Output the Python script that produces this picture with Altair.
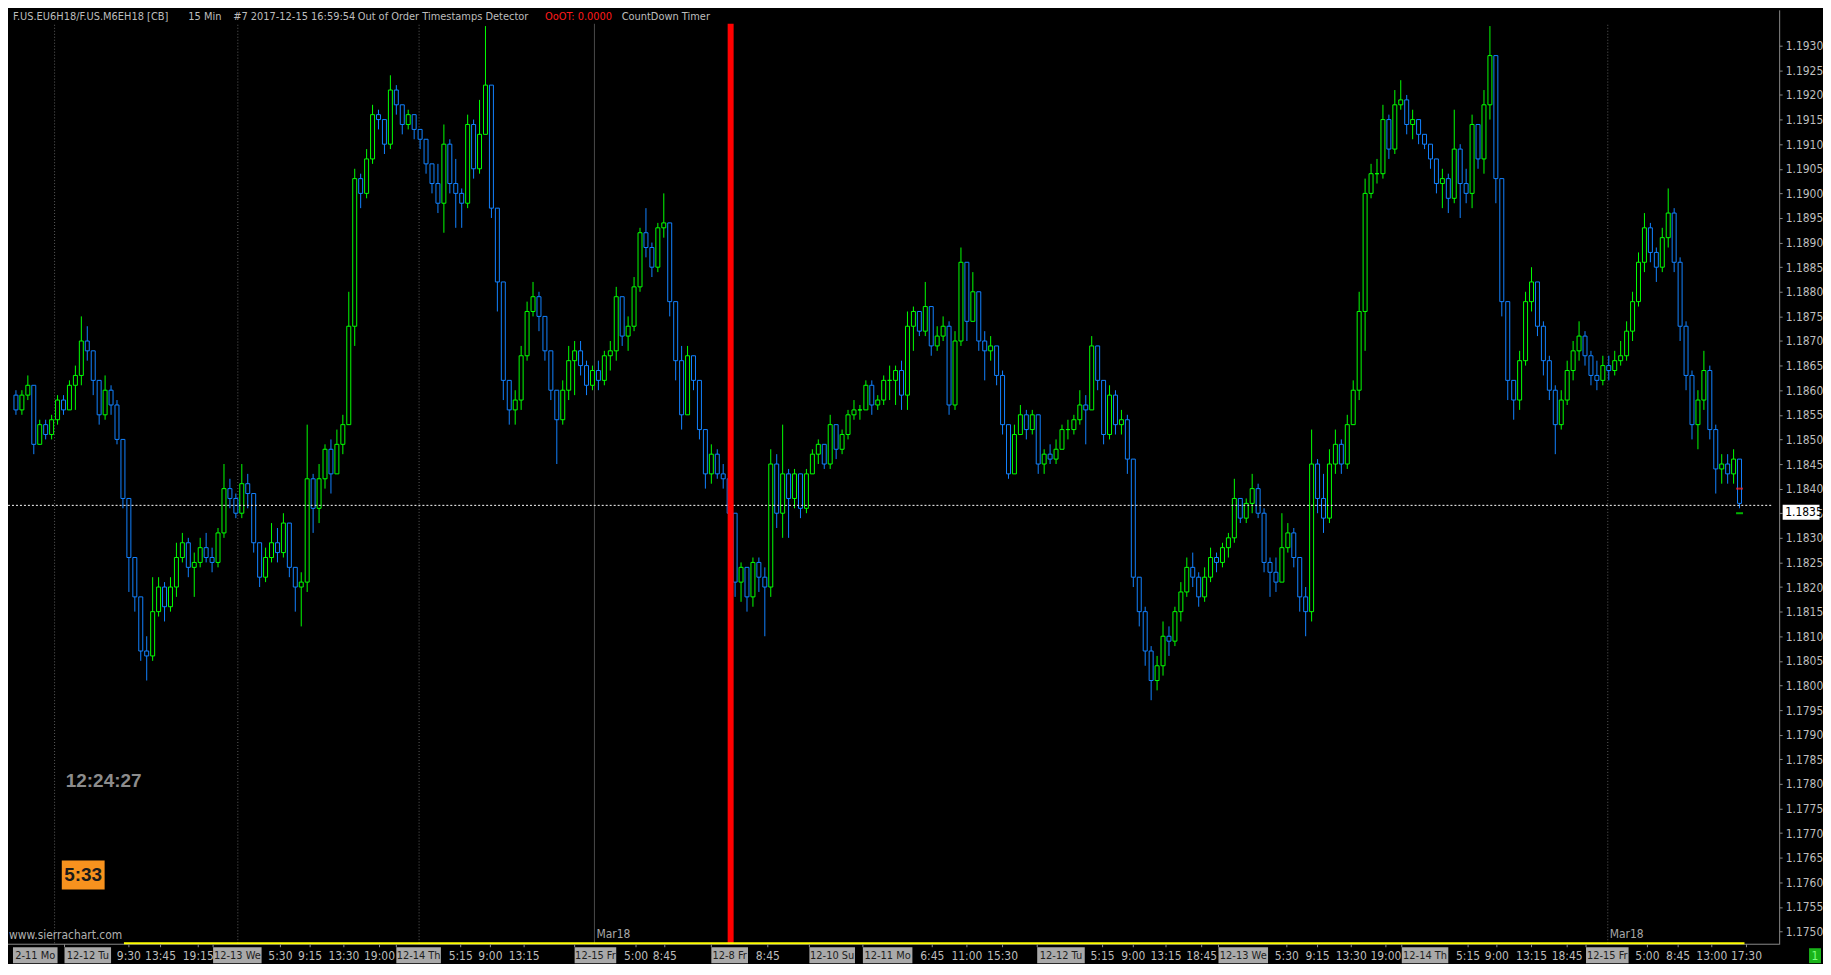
import altair as alt
import pandas as pd
import numpy as np

# ---------------- data ----------------
FIRST_OPEN = 1.1859
CLOSE = [
    1.1856, 1.1859, 1.1861, 1.1849, 1.1853, 1.1851, 1.1854, 1.1858, 1.1856, 1.1861,
    1.1863, 1.1870, 1.1868, 1.1862, 1.1855, 1.1860, 1.1857, 1.1850, 1.1838, 1.1826,
    1.1818, 1.1807, 1.1806, 1.1815, 1.1820, 1.1816, 1.1820, 1.1826, 1.1829, 1.1824,
    1.1825, 1.1828, 1.1826, 1.1825, 1.1831, 1.1840, 1.1838, 1.1835, 1.1841, 1.1839,
    1.1829, 1.1822, 1.1826, 1.1829, 1.1827, 1.1833, 1.1824, 1.1820, 1.1821, 1.1842,
    1.1836, 1.1842, 1.1848, 1.1843, 1.1849, 1.1853, 1.1873, 1.1903, 1.1900, 1.1907,
    1.1916, 1.1915, 1.1910, 1.1921, 1.1918, 1.1914, 1.1916, 1.1913, 1.1911, 1.1906,
    1.1902, 1.1898, 1.1910, 1.1902, 1.1900, 1.1898, 1.1914, 1.1905, 1.1912, 1.1922,
    1.1897, 1.1882, 1.1862, 1.1856, 1.1858, 1.1867, 1.1876, 1.1879, 1.1875, 1.1868,
    1.1860, 1.1854, 1.1860, 1.1866, 1.1868, 1.1865, 1.1861, 1.1864, 1.1862, 1.1867,
    1.1868, 1.1879, 1.1871, 1.1873, 1.1881, 1.1892, 1.1889, 1.1885, 1.1893, 1.1894,
    1.1878, 1.1866, 1.1855, 1.1867, 1.1862, 1.1852, 1.1843, 1.1847, 1.1843, 1.1842,
    1.1835, 1.1821, 1.1824, 1.1818, 1.1825, 1.1822, 1.1820, 1.1845, 1.1835, 1.1843,
    1.1838, 1.1843, 1.1836, 1.1843, 1.1847, 1.1849, 1.1845, 1.1853, 1.1848, 1.1851,
    1.1855, 1.1856, 1.1856, 1.1861, 1.1857, 1.1858, 1.1862, 1.1862, 1.1864, 1.1859,
    1.1873, 1.1876, 1.1872, 1.1877, 1.1869, 1.1871, 1.1873, 1.1857, 1.1870, 1.1886,
    1.1874, 1.1880, 1.1870, 1.1868, 1.1869, 1.1863, 1.1853, 1.1843, 1.1851, 1.1855,
    1.1852, 1.1855, 1.1845, 1.1847, 1.1846, 1.1848, 1.1852, 1.1852, 1.1854, 1.1857,
    1.1856, 1.1869, 1.1862, 1.1851, 1.1859, 1.1853, 1.1854, 1.1846, 1.1822, 1.1815,
    1.1807, 1.1801, 1.1804, 1.1810, 1.1809, 1.1815, 1.1819, 1.1824, 1.1822, 1.1818,
    1.1822, 1.1826, 1.1825, 1.1828, 1.1830, 1.1838, 1.1834, 1.1837, 1.1840, 1.1835,
    1.1825, 1.1823, 1.1821, 1.1828, 1.1831, 1.1826, 1.1818, 1.1815, 1.1845, 1.1838,
    1.1834, 1.1845, 1.1849, 1.1845, 1.1853, 1.1860, 1.1876, 1.1900, 1.1904, 1.1904,
    1.1915, 1.1909, 1.1918, 1.1919, 1.1914, 1.1915, 1.1912, 1.1910, 1.1907, 1.1902,
    1.1903, 1.1899, 1.1909, 1.1902, 1.1900, 1.1914, 1.1907, 1.1918, 1.1928, 1.1903,
    1.1878, 1.1862, 1.1858, 1.1866, 1.1878, 1.1882, 1.1873, 1.1866, 1.1860, 1.1853,
    1.1858, 1.1864, 1.1868, 1.1871, 1.1867, 1.1863, 1.1862, 1.1865, 1.1864, 1.1866,
    1.1867, 1.1872, 1.1878, 1.1886, 1.1893, 1.1888, 1.1885, 1.1891, 1.1896, 1.1886,
    1.1873, 1.1863, 1.1853, 1.1858, 1.1864, 1.1852, 1.1844, 1.1845, 1.1843, 1.1846,
    1.1837,
]
HIGH = [
    1.1860, 1.1860, 1.1863, 1.1857, 1.1854, 1.1854, 1.1855, 1.1859, 1.1859, 1.1862,
    1.1865, 1.1875, 1.1873, 1.1868, 1.1860, 1.1863, 1.1861, 1.1858, 1.1850, 1.1838,
    1.1826, 1.1818, 1.1810, 1.1822, 1.1822, 1.1821, 1.1822, 1.1829, 1.1831, 1.1830,
    1.1827, 1.1830, 1.1831, 1.1828, 1.1832, 1.1845, 1.1842, 1.1839, 1.1845, 1.1843,
    1.1839, 1.1829, 1.1828, 1.1833, 1.1832, 1.1835, 1.1832, 1.1824, 1.1823, 1.1853,
    1.1843, 1.1845, 1.1849, 1.1850, 1.1852, 1.1855, 1.1880, 1.1905, 1.1904, 1.1909,
    1.1918, 1.1917, 1.1914, 1.1924, 1.1922, 1.1918, 1.1917, 1.1916, 1.1913, 1.1911,
    1.1905, 1.1906, 1.1914, 1.1911, 1.1907, 1.1901, 1.1916, 1.1915, 1.1919, 1.1934,
    1.1922, 1.1897, 1.1882, 1.1862, 1.1860, 1.1869, 1.1878, 1.1882, 1.1880, 1.1874,
    1.1866, 1.1860, 1.1862, 1.1869, 1.1870, 1.1870, 1.1866, 1.1865, 1.1866, 1.1868,
    1.1870, 1.1881, 1.1879, 1.1875, 1.1883, 1.1893, 1.1897, 1.1890, 1.1894, 1.1900,
    1.1894, 1.1872, 1.1869, 1.1869, 1.1867, 1.1862, 1.1852, 1.1849, 1.1848, 1.1845,
    1.1843, 1.1830, 1.1825, 1.1824, 1.1826, 1.1826, 1.1824, 1.1848, 1.1847, 1.1853,
    1.1844, 1.1844, 1.1843, 1.1844, 1.1848, 1.1850, 1.1849, 1.1855, 1.1853, 1.1852,
    1.1856, 1.1858, 1.1857, 1.1862, 1.1862, 1.1859, 1.1863, 1.1865, 1.1865, 1.1866,
    1.1876, 1.1877, 1.1876, 1.1882, 1.1876, 1.1873, 1.1875, 1.1874, 1.1872, 1.1889,
    1.1886, 1.1884, 1.1877, 1.1872, 1.1871, 1.1868, 1.1864, 1.1852, 1.1853, 1.1857,
    1.1856, 1.1856, 1.1855, 1.1848, 1.1849, 1.1850, 1.1853, 1.1854, 1.1855, 1.1860,
    1.1859, 1.1871, 1.1869, 1.1862, 1.1861, 1.1860, 1.1856, 1.1855, 1.1846, 1.1822,
    1.1816, 1.1808, 1.1806, 1.1813, 1.1812, 1.1816, 1.1821, 1.1826, 1.1827, 1.1823,
    1.1824, 1.1828, 1.1827, 1.1829, 1.1831, 1.1842, 1.1838, 1.1838, 1.1843, 1.1841,
    1.1836, 1.1826, 1.1826, 1.1835, 1.1833, 1.1832, 1.1826, 1.1820, 1.1852, 1.1846,
    1.1843, 1.1848, 1.1852, 1.1850, 1.1855, 1.1862, 1.1880, 1.1903, 1.1906, 1.1907,
    1.1918, 1.1916, 1.1921, 1.1923, 1.1920, 1.1917, 1.1915, 1.1912, 1.1910, 1.1907,
    1.1905, 1.1904, 1.1917, 1.1910, 1.1905, 1.1916, 1.1914, 1.1921, 1.1934, 1.1928,
    1.1900, 1.1878, 1.1862, 1.1868, 1.1880, 1.1885, 1.1882, 1.1874, 1.1867, 1.1861,
    1.1860, 1.1866, 1.1870, 1.1874, 1.1872, 1.1868, 1.1866, 1.1867, 1.1867, 1.1868,
    1.1870, 1.1874, 1.1880, 1.1888, 1.1896, 1.1894, 1.1889, 1.1893, 1.1901, 1.1897,
    1.1887, 1.1874, 1.1864, 1.1860, 1.1868, 1.1865, 1.1853, 1.1847, 1.1847, 1.1848,
    1.1845,
]
LOW = [
    1.1855, 1.1855, 1.1858, 1.1847, 1.1849, 1.1850, 1.1850, 1.1853, 1.1855, 1.1856,
    1.1856, 1.1861, 1.1866, 1.1859, 1.1853, 1.1854, 1.1855, 1.1849, 1.1836, 1.1819,
    1.1815, 1.1805, 1.1801, 1.1805, 1.1814, 1.1813, 1.1815, 1.1818, 1.1825, 1.1822,
    1.1818, 1.1824, 1.1825, 1.1823, 1.1824, 1.1830, 1.1836, 1.1834, 1.1834, 1.1836,
    1.1827, 1.1820, 1.1821, 1.1825, 1.1825, 1.1826, 1.1822, 1.1815, 1.1812, 1.1819,
    1.1831, 1.1833, 1.1840, 1.1839, 1.1843, 1.1847, 1.1855, 1.1869, 1.1897, 1.1899,
    1.1906, 1.1913, 1.1908, 1.1909, 1.1916, 1.1912, 1.1913, 1.1911, 1.1909, 1.1904,
    1.1900, 1.1896, 1.1892, 1.1900, 1.1893, 1.1893, 1.1897, 1.1903, 1.1904, 1.1915,
    1.1895, 1.1876, 1.1858, 1.1853, 1.1853, 1.1856, 1.1866, 1.1875, 1.1872, 1.1866,
    1.1858, 1.1845, 1.1853, 1.1858, 1.1859, 1.1863, 1.1859, 1.1860, 1.1860, 1.1861,
    1.1864, 1.1866, 1.1869, 1.1868, 1.1872, 1.1880, 1.1887, 1.1883, 1.1884, 1.1891,
    1.1875, 1.1862, 1.1852, 1.1855, 1.1860, 1.1850, 1.1840, 1.1841, 1.1842, 1.1840,
    1.1834, 1.1818, 1.1817, 1.1815, 1.1816, 1.1819, 1.1810, 1.1818, 1.1832, 1.1830,
    1.1830, 1.1836, 1.1834, 1.1835, 1.1843, 1.1845, 1.1844, 1.1844, 1.1846, 1.1847,
    1.1850, 1.1854, 1.1854, 1.1856, 1.1855, 1.1856, 1.1857, 1.1858, 1.1857, 1.1856,
    1.1856, 1.1868, 1.1871, 1.1871, 1.1867, 1.1868, 1.1870, 1.1855, 1.1856, 1.1869,
    1.1870, 1.1875, 1.1868, 1.1862, 1.1866, 1.1861, 1.1851, 1.1842, 1.1843, 1.1851,
    1.1850, 1.1851, 1.1843, 1.1843, 1.1845, 1.1845, 1.1848, 1.1850, 1.1851, 1.1853,
    1.1849, 1.1856, 1.1860, 1.1849, 1.1850, 1.1851, 1.1851, 1.1843, 1.1820, 1.1812,
    1.1804, 1.1797, 1.1799, 1.1802, 1.1806, 1.1808, 1.1813, 1.1818, 1.1820, 1.1816,
    1.1817, 1.1821, 1.1823, 1.1824, 1.1826, 1.1829, 1.1833, 1.1833, 1.1835, 1.1834,
    1.1823, 1.1818, 1.1819, 1.1821, 1.1827, 1.1824, 1.1815, 1.1810, 1.1813, 1.1835,
    1.1831, 1.1833, 1.1843, 1.1843, 1.1844, 1.1853, 1.1858, 1.1868, 1.1899, 1.1902,
    1.1903, 1.1907, 1.1908, 1.1917, 1.1912, 1.1911, 1.1910, 1.1909, 1.1905, 1.1900,
    1.1897, 1.1896, 1.1898, 1.1895, 1.1898, 1.1897, 1.1905, 1.1904, 1.1915, 1.1898,
    1.1875, 1.1858, 1.1854, 1.1856, 1.1865, 1.1876, 1.1871, 1.1863, 1.1858, 1.1847,
    1.1852, 1.1857, 1.1862, 1.1866, 1.1865, 1.1861, 1.1860, 1.1861, 1.1862, 1.1863,
    1.1865, 1.1866, 1.1870, 1.1877, 1.1884, 1.1886, 1.1882, 1.1884, 1.1889, 1.1884,
    1.1870, 1.1860, 1.1850, 1.1848, 1.1856, 1.1850, 1.1839, 1.1841, 1.1841, 1.1841,
    1.1836,
]

PRICE_TICKS = [
    1.1750, 1.1755, 1.1760, 1.1765, 1.1770, 1.1775, 1.1780, 1.1785, 1.1790,
    1.1795, 1.1800, 1.1805, 1.1810, 1.1815, 1.1820, 1.1825, 1.1830, 1.1835,
    1.1840, 1.1845, 1.1850, 1.1855, 1.1860, 1.1865, 1.1870, 1.1875, 1.1880,
    1.1885, 1.1890, 1.1895, 1.1900, 1.1905, 1.1910, 1.1915, 1.1920, 1.1925,
    1.1930,
]
LAST_LINE_PRICE = 1.18366
LAST_LABEL = "1.1835"
LAST_LABEL_PRICE = 1.18352
LAST_BAR_MARKS = [1.1840, 1.1835]
LAST_BAR_MARK_KIND = ["ask", "bid"]

RED_SLOT = 120.25
DOTTED_GRID_SLOTS = [6.5, 37.33, 67.83, 267.83]
SOLID_GRID_SLOTS = [97.33]
MAR18_SLOTS = [97.33, 267.83]
YELLOW_SPAN = [18.17, 290.83]

DATE_LABELS = ["2-11 Mo", "12-12 Tu", "12-13 We", "12-14 Th", "12-15 Fr", "12-8 Fr",
               "12-10 Su", "12-11 Mo", "12-12 Tu", "12-13 We", "12-14 Th", "12-15 Fr"]
DATE_START = [-0.5, 8.17, 33.17, 64.0, 94.0, 117.0, 133.5, 142.5, 171.83, 202.33, 233.17, 264.17]
DATE_END = [7.0, 16.0, 41.33, 71.5, 101.0, 123.17, 141.17, 150.83, 179.83, 210.67, 241.0, 271.33]

TIME_LABELS = ["9:30", "13:45", "19:15", "5:30", "9:15", "13:30", "19:00", "5:15", "9:00",
               "13:15", "5:00", "8:45", "8:45", "6:45", "11:00", "15:30", "5:15", "9:00",
               "13:15", "18:45", "5:30", "9:15", "13:30", "19:00", "5:15", "9:00", "13:15",
               "18:45", "5:00", "8:45", "13:00", "17:30"]
TIME_POS = [19.0, 24.33, 30.67, 44.5, 49.5, 55.17, 61.17, 74.83, 79.83, 85.5, 104.33, 109.17,
            126.5, 154.17, 160.0, 166.0, 182.83, 188.0, 193.5, 199.5, 213.83, 219.0, 224.67,
            230.5, 244.33, 249.17, 255.0, 261.0, 274.5, 279.67, 285.33, 291.17]

HEADER_TEXTS = ["F.US.EU6H18/F.US.M6EH18 [CB]", "15 Min", "#7 2017-12-15 16:59:54",
                "Out of Order Timestamps Detector", "OoOT: 0.0000", "CountDown Timer"]
HEADER_KIND = ["info", "info", "info", "info", "alert", "info"]
CLOCK_TEXT = "12:24:27"
COUNTDOWN_TEXT = "5:33"
WATERMARK = "www.sierrachart.com"
CONTRACT_LABEL = "Mar18"

# ---------------- layout / style ----------------
W, H = 1778, 938
FONT = "Liberation Sans Narrow, DejaVu Sans Condensed, Roboto Condensed, Arial Narrow, Roboto, sans-serif"
FS = 12
UP, DOWN = "#00ff00", "#1282ff"
GRAY_TXT = "#bdbdbd"
HEADER_X = [5, 181, 226, 351, 539, 616]

XS = alt.Scale(domain=[-0.5, 295.83], nice=False, zero=False)
YS = alt.Scale(domain=[1.174741, 1.19373], nice=False, zero=False)
YAXIS = alt.Axis(orient="right", values=PRICE_TICKS, format=".4f", title=None, grid=False,
                 labelColor=GRAY_TXT, labelFont=FONT, labelFontSize=FS, labelPadding=3,
                 tickColor="#8a8a8a", tickSize=3, domainColor="#8a8a8a",
                 labelOverlap=False, labelFlush=False)


def xq(field):
    return alt.X(field, type="quantitative", scale=XS, axis=None)


def yq(field):
    return alt.Y(field, type="quantitative", scale=YS, axis=YAXIS)


# ---------------- frames ----------------
n = len(CLOSE)
df = pd.DataFrame({"i": np.arange(n), "open": [FIRST_OPEN] + CLOSE[:-1],
                   "close": CLOSE, "high": HIGH, "low": LOW})
df["top"] = df[["open", "close"]].max(axis=1)
df["bot"] = df[["open", "close"]].min(axis=1)
df["hi"] = np.maximum(df["high"], df["top"])
df["lo"] = np.minimum(df["low"], df["bot"])
df["dir"] = np.where(df["close"] >= df["open"], "up", "down")

dir_stroke = alt.Stroke("dir:N", scale=alt.Scale(domain=["up", "down"], range=[UP, DOWN]), legend=None)

dates = pd.DataFrame({"label": DATE_LABELS, "start": DATE_START, "end": DATE_END})
dates["mid"] = (dates["start"] + dates["end"]) / 2
times = pd.DataFrame({"label": TIME_LABELS, "pos": TIME_POS})
ticks = pd.DataFrame({"pos": TIME_POS + DATE_START[1:]})

# ---------------- layers ----------------
dotted = alt.Chart(pd.DataFrame({"s": DOTTED_GRID_SLOTS})).mark_rule(
    color="#5c5c5c", strokeDash=[1, 2], strokeWidth=1).encode(
    x=xq("s"), y=alt.value(15), y2=alt.value(H))
solid = alt.Chart(pd.DataFrame({"s": SOLID_GRID_SLOTS})).mark_rule(
    color="#4a4a4a", strokeWidth=1).encode(x=xq("s"), y=alt.value(14), y2=alt.value(H))

wicks = alt.Chart(df).mark_rule(strokeWidth=1).encode(
    x=xq("i"), y=yq("lo"), y2="hi:Q", stroke=dir_stroke)
bodies = alt.Chart(df).mark_bar(width=4, fill="#000000", strokeWidth=1).encode(
    x=xq("i"), y=yq("bot"), y2="top:Q", stroke=dir_stroke)

last_line = alt.Chart(pd.DataFrame({"p": [LAST_LINE_PRICE]})).mark_rule(
    color="#ffffff", strokeDash=[2, 2], strokeWidth=1).encode(
    y=yq("p"), x=alt.value(0), x2=alt.value(W - 6))

last_marks = alt.Chart(pd.DataFrame({"p": LAST_BAR_MARKS, "k": LAST_BAR_MARK_KIND,
                                     "i": [n - 1, n - 1]})).mark_tick(
    thickness=2, size=7, orient="horizontal").encode(
    x=xq("i"), y=yq("p"),
    color=alt.Color("k:N", scale=alt.Scale(domain=["ask", "bid"], range=["#ff2020", "#00ff00"]), legend=None))

red_bar = alt.Chart(pd.DataFrame({"s": [RED_SLOT]})).mark_rule(
    color="#ff0000", strokeWidth=6).encode(x=xq("s"), y=alt.value(14), y2=alt.value(H))

axis_line = alt.Chart(pd.DataFrame({"a": [0]})).mark_rule(color="#8a8a8a", strokeWidth=1).encode(
    x=alt.value(0), x2=alt.value(W), y=alt.value(H))
yellow = alt.Chart(pd.DataFrame({"a": [YELLOW_SPAN[0]], "b": [YELLOW_SPAN[1]]})).mark_rule(
    color="#ffff00", strokeWidth=2).encode(x=xq("a"), x2="b:Q", y=alt.value(H - 1))

tick_marks = alt.Chart(ticks).mark_rule(color="#8a8a8a").encode(
    x=xq("pos"), y=alt.value(H), y2=alt.value(H + 3))
date_boxes = alt.Chart(dates).mark_rect(fill="#a9a9a9").encode(
    x=xq("start"), x2="end:Q", y=alt.value(H + 3), y2=alt.value(H + 19))
date_text = alt.Chart(dates).mark_text(font=FONT, fontSize=11, color="#1c1c1c", baseline="middle").encode(
    x=xq("mid"), y=alt.value(H + 11.5), text="label:N")
time_text = alt.Chart(times).mark_text(font=FONT, fontSize=FS, color=GRAY_TXT, baseline="middle").encode(
    x=xq("pos"), y=alt.value(H + 11.5), text="label:N")

mar18 = alt.Chart(pd.DataFrame({"s": MAR18_SLOTS, "t": [CONTRACT_LABEL] * 2})).mark_text(
    font=FONT, fontSize=FS, color="#a8a8a8", align="left", baseline="middle", dx=2).encode(
    x=xq("s"), y=alt.value(H - 10), text="t:N")

header = alt.layer(*[
    alt.Chart(pd.DataFrame({"t": [t]})).mark_text(
        font=FONT, fontSize=11, align="left", baseline="middle",
        color=("#ff1a1a" if k == "alert" else GRAY_TXT)).encode(
        x=alt.value(hx), y=alt.value(7), text="t:N")
    for t, k, hx in zip(HEADER_TEXTS, HEADER_KIND, HEADER_X)
])

clock = alt.Chart(pd.DataFrame({"t": [CLOCK_TEXT]})).mark_text(
    font="Liberation Sans, Arial, sans-serif", fontSize=19, fontWeight="bold", color="#8c8c8c",
    baseline="middle").encode(x=alt.value(96), y=alt.value(774), text="t:N")
cd_box = alt.Chart(pd.DataFrame({"a": [0]})).mark_rect(fill="#f7921e").encode(
    x=alt.value(54), x2=alt.value(97), y=alt.value(854), y2=alt.value(883))
cd_text = alt.Chart(pd.DataFrame({"t": [COUNTDOWN_TEXT]})).mark_text(
    font="Liberation Sans, Arial, sans-serif", fontSize=19, fontWeight="bold", color="#1a1a1a",
    baseline="middle").encode(x=alt.value(75.5), y=alt.value(869), text="t:N")
watermark = alt.Chart(pd.DataFrame({"t": [WATERMARK]})).mark_text(
    font=FONT, fontSize=FS, color="#b0b0b0", align="left", baseline="middle").encode(
    x=alt.value(1), y=alt.value(H - 9), text="t:N")

lbl_box = alt.Chart(pd.DataFrame({"p": [LAST_LABEL_PRICE]})).mark_tick(
    color="#ffffff", thickness=15, size=37, orient="horizontal", opacity=1).encode(
    y=yq("p"), x=alt.value(W + 22))
lbl_text = alt.Chart(pd.DataFrame({"p": [LAST_LABEL_PRICE], "t": [LAST_LABEL]})).mark_text(
    font=FONT, fontSize=FS, color="#000000", align="left", baseline="middle").encode(
    y=yq("p"), x=alt.value(W + 6), text="t:N")

green_box = alt.Chart(pd.DataFrame({"a": [0]})).mark_rect(fill="#19b319").encode(
    x=alt.value(W + 30), x2=alt.value(W + 42), y=alt.value(H + 4), y2=alt.value(H + 19))
green_txt = alt.Chart(pd.DataFrame({"t": ["1"]})).mark_text(
    font=FONT, fontSize=FS, color="#7dff7d", baseline="middle").encode(
    x=alt.value(W + 36), y=alt.value(H + 11.5), text="t:N")

chart = alt.layer(
    dotted, solid, wicks, bodies, last_line, last_marks, red_bar,
    axis_line, yellow, tick_marks, date_boxes, date_text, time_text, mar18,
    header, clock, cd_box, cd_text, watermark, lbl_box, lbl_text, green_box, green_txt,
).properties(
    width=W, height=H, background="#000000",
    padding={"left": 0, "top": 0, "right": 44, "bottom": 18},
    autosize=alt.AutoSizeParams(type="none"),
).configure_view(stroke=None)

chart.save("out.html", embed_options={"renderer": "svg", "actions": False})
